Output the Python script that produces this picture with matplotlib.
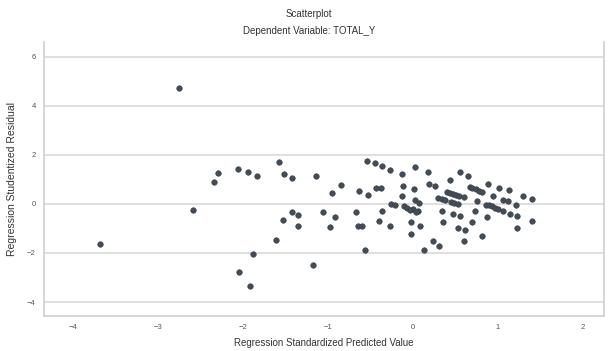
import numpy as np
import matplotlib
matplotlib.use('Agg')
import matplotlib.pyplot as plt


plt.rcParams['font.family'] = ['Liberation Sans', 'DejaVu Sans']

# standardized predicted value (x) and studentized residual (y)
pred = [
    -3.68, -2.75, -2.59, -2.34, -2.29, -2.06, -1.94, -1.83, -1.57, -1.51,
    -1.42, -1.14, -1.42, -1.35, -1.53, -1.35, -1.61, -1.88, -2.04, -1.92,
    -1.18, -1.06, -0.85, -0.95, -0.91, -0.98, -0.67, -0.65, -0.60, -0.63,
    -0.53, -0.56, -0.54, -0.45, -0.36, -0.27, -0.13, -0.43, -0.38, -0.11,
    -0.13, -0.26, -0.21, -0.36, -0.40, -0.27, 0.02, 0.18, 0.01, 0.19,
    0.26, 0.44, 0.55, 0.65, 0.02, 0.07, -0.10, 0.00, 0.06, -0.02,
    0.09, -0.02, 0.24, 0.31, 0.13, 0.34, 0.36, 0.40, 0.44, 0.47,
    0.51, 0.54, 0.60, 0.30, 0.34, 0.38, 0.45, 0.49, 0.53, 0.47,
    0.55, 0.53, 0.61, 0.60, 0.81, 0.70, 0.73, 0.75, 0.67, 0.70,
    0.74, 0.78, 0.82, 0.89, 1.02, 1.13, 0.94, 1.06, 1.12, 1.30,
    1.40, 1.21, 0.86, 0.90, 0.93, 0.97, 1.00, 1.06, 1.14, 1.23,
    0.87, 1.40, 1.23, -0.07, -0.03, 0.04,
]
resid = [
    -1.63, 4.72, -0.24, 0.90, 1.26, 1.43, 1.29, 1.16, 1.71, 1.22,
    1.06, 1.16, -0.31, -0.44, -0.64, -0.90, -1.47, -2.05, -2.79, -3.36,
    -2.49, -0.33, 0.79, 0.45, -0.53, -0.94, -0.34, -0.88, -0.90, 0.52,
    0.35, -1.89, 1.74, 1.65, 1.54, 1.40, 1.24, 0.66, 0.64, 0.72,
    0.31, -0.02, -0.06, -0.30, -0.71, -0.88, 1.50, 1.31, 0.59, 0.83,
    0.72, 0.97, 1.29, 1.16, 0.15, 0.05, -0.10, -0.20, -0.28, -0.75,
    -0.88, -1.21, -1.50, -1.70, -1.86, -0.27, -0.75, 0.48, 0.45, 0.41,
    0.37, 0.34, 0.29, 0.26, 0.21, 0.15, 0.08, 0.03, -0.02, -0.40,
    -0.50, -0.98, -1.07, -1.52, -1.31, -0.75, -0.30, 0.11, 0.68, 0.64,
    0.59, 0.54, 0.49, 0.83, 0.65, 0.56, 0.31, 0.18, 0.11, 0.34,
    0.20, -0.03, -0.03, -0.06, -0.10, -0.15, -0.20, -0.28, -0.39, -0.50,
    -0.53, -0.69, -0.98, -0.18, -0.25, -0.32,
]

xticks = [-4, -3, -2, -1, 0, 1, 2]
yticks = [-4, -2, 0, 2, 4, 6]

fig = plt.figure(figsize=(6.14, 3.51), dpi=100)
ax = fig.add_axes([0.0717, 0.0997, 0.912, 0.7803])

ax.scatter(pred, resid, s=16, color='#444c55', edgecolors='#34404c',
           linewidths=0.4, zorder=3)

ax.set_xlim(-4.34, 2.25)
ax.set_ylim(-4.57, 6.6)
ax.set_xticks(xticks)
ax.set_yticks(yticks)
ax.tick_params(length=0, labelsize=5.5, labelcolor='#555555', pad=6)
ax.grid(axis='y', color='#dcdcdc', linewidth=1.3)
ax.set_axisbelow(True)
for side in ['left', 'bottom', 'right']:
    ax.spines[side].set_color('#cfcfcf')
    ax.spines[side].set_linewidth(1.2)
ax.spines['top'].set_visible(False)

ax.set_xlabel('Regression Standardized Predicted Value', fontsize=7,
              color='#333333', labelpad=5)
ax.set_ylabel('Regression Studentized Residual', fontsize=7.5,
              color='#333333', labelpad=7)

fig.text(0.503, 0.96, 'Scatterplot', ha='center', va='center',
         fontsize=7, color='#333333')
fig.text(0.503, 0.912, 'Dependent Variable: TOTAL_Y', ha='center',
         va='center', fontsize=7, color='#333333')

fig.savefig('out.png', dpi=100)
